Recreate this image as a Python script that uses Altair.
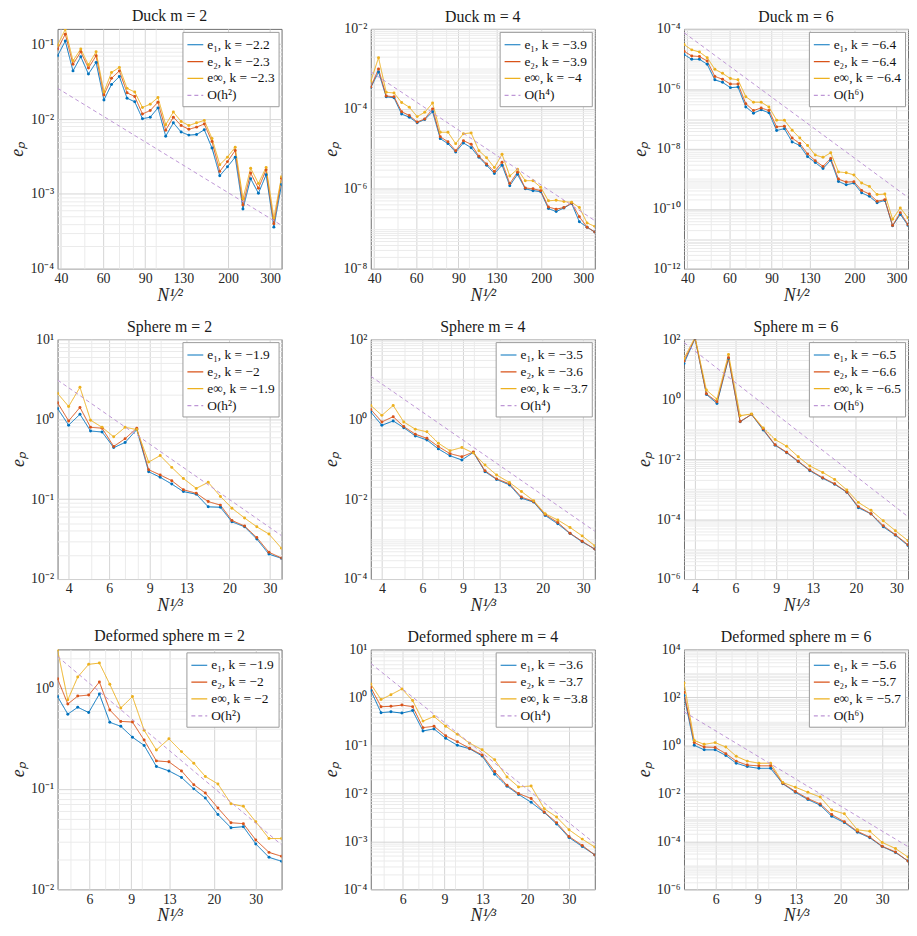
import altair as alt
import pandas as pd

SERIF = "Liberation Serif"
COLORS = ["#0072BD", "#D95319", "#EDB120", "#BE96D6"]

# ---------------- x values ----------------
duck_x = [38.7, 41.7, 44.9, 48.4, 52.1, 56.1, 60.5, 65.1, 70.2, 75.6, 81.4, 87.7, 94.5, 101.8, 109.7,
          118.1, 127.3, 137.1, 147.7, 159.1, 171.4, 184.7, 198.9, 214.3, 230.9, 248.7, 268.0, 288.7, 311.0, 335.0]
sphere_x = [3.58, 4.0, 4.48, 4.98, 5.59, 6.28, 7.04, 7.91, 8.91, 10.0, 11.23, 12.61, 14.35, 16.17, 18.27,
            20.5, 23.27, 26.3, 29.7, 33.7]
deformed_x = [4.41, 4.87, 5.36, 5.96, 6.61, 7.31, 8.13, 9.10, 10.19, 11.47, 12.95, 14.62, 16.47, 18.41, 20.8,
              23.6, 26.6, 30.0, 34.1, 38.5]

# ---------------- Duck ----------------
duck2_e1 = [0.070, 0.11, 0.044, 0.068, 0.040, 0.057, 0.018, 0.029, 0.037, 0.019, 0.017, 0.0101, 0.0106, 0.0141, 0.0059,
            0.0089, 0.0067, 0.0061, 0.0062, 0.0072, 0.0041, 0.00175, 0.0023, 0.0031, 0.00063, 0.0016, 0.00102, 0.0018,
            0.00036, 0.00134]
duck2_e2 = [0.086, 0.136, 0.054, 0.079, 0.048, 0.070, 0.021, 0.035, 0.044, 0.0224, 0.020, 0.0117, 0.013, 0.0168, 0.0071,
            0.0106, 0.0082, 0.0073, 0.0078, 0.0086, 0.0050, 0.0020, 0.0027, 0.0038, 0.00071, 0.0019, 0.00119, 0.0021,
            0.00040, 0.00162]
duck2_einf = [0.097, 0.158, 0.060, 0.086, 0.053, 0.079, 0.023, 0.042, 0.049, 0.0257, 0.023, 0.0143, 0.0158, 0.0194, 0.0084,
              0.0124, 0.0093, 0.0082, 0.0089, 0.0096, 0.0055, 0.00246, 0.0031, 0.0042, 0.00086, 0.0022, 0.00138, 0.00226,
              0.00048, 0.0017]
duck2_ref = [0.0258, 0.00038]

duck4_e1 = [3.4e-4, 8.4e-4, 2.0e-4, 1.9e-4, 7.4e-5, 6.2e-5, 4.5e-5, 5.4e-5, 8.5e-5, 1.8e-5, 1.35e-5, 8.3e-6, 1.4e-5,
            1.07e-5, 6.2e-6, 3.9e-6, 2.4e-6, 3.9e-6, 1.2e-6, 2.3e-6, 1.0e-6, 9e-7, 8.5e-7, 3.2e-7, 2.7e-7, 3.3e-7,
            4.3e-7, 1.5e-7, 1.1e-7, 8.3e-8]
duck4_e2 = [3.5e-4, 1.0e-3, 2.1e-4, 2.0e-4, 8.5e-5, 6.8e-5, 4.7e-5, 5.6e-5, 1.0e-4, 2.0e-5, 1.5e-5, 9.0e-6, 1.6e-5,
            1.3e-5, 6.5e-6, 4.2e-6, 2.7e-6, 4.6e-6, 1.35e-6, 2.6e-6, 1.05e-6, 1.0e-6, 9e-7, 3.5e-7, 3.1e-7, 3.4e-7,
            4.4e-7, 2.0e-7, 1.1e-7, 8.3e-8]
duck4_einf = [4.9e-4, 1.9e-3, 2.6e-4, 2.5e-4, 1.45e-4, 1.1e-4, 6.4e-5, 8.2e-5, 1.4e-4, 2.6e-5, 2.6e-5, 1.35e-5, 2.4e-5,
              2.5e-5, 9e-6, 6e-6, 3.4e-6, 7.3e-6, 2.1e-6, 3.1e-6, 1.6e-6, 1.6e-6, 1.1e-6, 5.0e-7, 5.2e-7, 4.8e-7,
              4.6e-7, 3.4e-7, 1.4e-7, 1.15e-7]
duck4_ref = [8.5e-4, 1.6e-7]

duck6_e1 = [1.4e-5, 9.7e-6, 9.7e-6, 6.6e-6, 2.0e-6, 1.65e-6, 1.1e-6, 1.15e-6, 2.5e-7, 1.55e-7, 2.0e-7, 1.6e-7, 4.1e-8,
            4.7e-8, 1.7e-8, 1.3e-8, 5.5e-9, 3.5e-9, 2.2e-9, 4.2e-9, 8.2e-10, 6.3e-10, 7.2e-10, 3.4e-10, 2.6e-10,
            1.6e-10, 1.9e-10, 2.7e-11, 6.5e-11, 2.8e-11]
duck6_e2 = [1.8e-5, 1.25e-5, 1.2e-5, 8.5e-6, 2.6e-6, 2.1e-6, 1.45e-6, 1.45e-6, 3.2e-7, 1.9e-7, 2.3e-7, 1.9e-7, 5.4e-8,
            5.7e-8, 2.3e-8, 1.5e-8, 6.8e-9, 4.0e-9, 2.6e-9, 4.8e-9, 9.8e-10, 7.8e-10, 8.0e-10, 4.1e-10, 3.1e-10,
            1.8e-10, 2.0e-10, 2.8e-11, 7.4e-11, 3.0e-11]
duck6_einf = [3.0e-5, 2.0e-5, 1.7e-5, 1.1e-5, 4.5e-6, 3.3e-6, 2.2e-6, 2.0e-6, 5.5e-7, 3.6e-7, 3.6e-7, 2.5e-7, 9e-8,
              9e-8, 4.2e-8, 2.3e-8, 1.3e-8, 6.2e-9, 5.2e-9, 7.4e-9, 1.7e-9, 1.6e-9, 1.35e-9, 7.2e-10, 5.6e-10,
              3.0e-10, 3.1e-10, 4.5e-11, 1.07e-10, 5.0e-11]
duck6_ref = [7.5e-5, 2.4e-10]

# ---------------- Sphere ----------------
sph2_e1 = [1.36, 0.84, 1.15, 0.71, 0.69, 0.44, 0.51, 0.74, 0.22, 0.187, 0.154, 0.124, 0.115, 0.080, 0.079, 0.052,
           0.045, 0.0316, 0.0205, 0.0181]
sph2_e2 = [1.6, 0.95, 1.4, 0.79, 0.77, 0.455, 0.57, 0.77, 0.233, 0.20, 0.17, 0.131, 0.118, 0.093, 0.084, 0.054,
           0.046, 0.033, 0.0216, 0.0183]
sph2_einf = [2.1, 1.44, 2.5, 0.97, 0.79, 0.60, 0.79, 0.74, 0.29, 0.35, 0.249, 0.181, 0.136, 0.162, 0.108, 0.077,
             0.058, 0.045, 0.0365, 0.0242]
sph2_ref = [3.08, 0.0348]

sph4_e1 = [1.5, 0.7, 0.9, 0.61, 0.38, 0.30, 0.18, 0.121, 0.095, 0.147, 0.0485, 0.031, 0.0226, 0.0105, 0.0084, 0.0039,
           0.0024, 0.00137, 0.00085, 0.00056]
sph4_e2 = [1.75, 0.85, 1.15, 0.65, 0.42, 0.33, 0.206, 0.137, 0.115, 0.15, 0.051, 0.032, 0.024, 0.0112, 0.0087, 0.0041,
           0.0026, 0.0014, 0.00088, 0.00056]
sph4_einf = [2.2, 1.24, 2.2, 0.85, 0.56, 0.48, 0.25, 0.162, 0.195, 0.141, 0.071, 0.040, 0.026, 0.0155, 0.0091, 0.0043,
             0.0030, 0.00195, 0.0012, 0.00068]
sph4_ref = [11.8, 0.00157]

sph6_e1 = [15.5, 105, 1.43, 0.72, 22.7, 0.175, 0.31, 0.093, 0.029, 0.0163, 0.0082, 0.0041, 0.0023, 0.00144, 0.00078,
           0.00024, 0.000148, 5.5e-5, 2.9e-5, 1.3e-5]
sph6_e2 = [18.5, 108, 1.5, 0.82, 24, 0.18, 0.31, 0.10, 0.030, 0.017, 0.0085, 0.0043, 0.0024, 0.0015, 0.0008,
           0.00026, 0.00015, 6e-5, 3e-5, 1.4e-5]
sph6_einf = [22.7, 115, 2.0, 1.0, 31, 0.28, 0.32, 0.11, 0.045, 0.027, 0.012, 0.0059, 0.0036, 0.0021, 0.00093,
             0.00036, 0.000195, 8.8e-5, 4.1e-5, 1.9e-5]
sph6_ref = [77, 1.2e-4]

# ---------------- Deformed sphere ----------------
def2_e1 = [0.83, 0.555, 0.65, 0.576, 0.88, 0.46, 0.42, 0.327, 0.271, 0.167, 0.151, 0.130, 0.100, 0.081, 0.0555, 0.041,
           0.042, 0.0283, 0.0208, 0.019]
def2_e2 = [1.25, 0.70, 0.84, 0.86, 1.16, 0.61, 0.47, 0.463, 0.306, 0.19, 0.186, 0.151, 0.11, 0.091, 0.0645, 0.046,
           0.045, 0.031, 0.0233, 0.0213]
def2_einf = [2.42, 0.77, 1.30, 1.74, 1.79, 1.10, 0.64, 0.83, 0.384, 0.244, 0.315, 0.235, 0.18, 0.133, 0.112, 0.071,
             0.067, 0.047, 0.032, 0.032]
def2_ref = [2.08, 0.0277]

def4_e1 = [1.4, 0.48, 0.50, 0.47, 0.53, 0.20, 0.22, 0.14, 0.10, 0.085, 0.06, 0.025, 0.014, 0.0095, 0.0065, 0.004,
           0.0023, 0.0012, 0.00078, 0.00052]
def4_e2 = [1.6, 0.64, 0.65, 0.69, 0.64, 0.234, 0.25, 0.158, 0.119, 0.087, 0.063, 0.0285, 0.0147, 0.0099, 0.0078,
           0.0041, 0.00245, 0.00126, 0.00082, 0.00052]
def4_einf = [1.9, 0.9, 1.14, 1.5, 0.86, 0.32, 0.40, 0.25, 0.17, 0.111, 0.081, 0.05, 0.022, 0.0136, 0.0142, 0.0048,
             0.0032, 0.00174, 0.00111, 0.00076]
def4_ref = [5.1, 9e-4]

def6_e1 = [120, 1.0, 0.65, 0.65, 0.38, 0.18, 0.13, 0.11, 0.11, 0.025, 0.011, 0.0055, 0.0032, 0.0011, 0.0006, 0.00024,
           0.00014, 6e-5, 3.4e-5, 1.5e-5]
def6_e2 = [160, 1.3, 0.85, 0.82, 0.45, 0.22, 0.15, 0.14, 0.14, 0.026, 0.012, 0.006, 0.0036, 0.0013, 0.00065, 0.00026,
           0.00015, 6.2e-5, 3.6e-5, 1.5e-5]
def6_einf = [400, 1.6, 1.1, 1.3, 0.85, 0.35, 0.22, 0.18, 0.18, 0.028, 0.018, 0.011, 0.007, 0.002, 0.0014, 0.0003,
             0.00026, 9e-5, 5e-5, 2.2e-5]
def6_ref = [25, 6e-5]

# ---------------- tick labels ----------------
duck_xticks = [40, 60, 90, 130, 200, 300]
duck_xminor = [50, 70, 80, 100]
sphere_xticks = [4, 6, 9, 13, 20, 30]
sphere_xminor = [5, 7, 8, 10]
deformed_xticks = [6, 9, 13, 20, 30]
deformed_xminor = [5, 7, 8, 10]

SUP = str.maketrans("-0123456789", "⁻⁰¹²³⁴⁵⁶⁷⁸⁹")


def y_axis(lo_exp, hi_exp, step, dom):
    labeled = [float(f"1e{n}") for n in range(lo_exp, hi_exp + 1, step)]
    vals = []
    for n in range(lo_exp, hi_exp + 1):
        for k in range(1, 10):
            v = float(f"{k}e{n}")
            if dom[0] <= v <= dom[1]:
                vals.append(v)
    expr = "''"
    for n in reversed(range(lo_exp, hi_exp + 1, step)):
        v = float(f"1e{n}")
        expr = f"datum.value == {v!r} ? '10{str(n).translate(SUP)}' : {expr}"
    test = f"indexof({labeled!r}, datum.value) >= 0"
    return alt.Axis(values=vals, labelExpr=expr, title="eₚ", titleFontStyle="italic",
                    labelFont=SERIF, titleFont=SERIF, labelFontSize=14, titleFontSize=18,
                    grid=True, ticks=False, domain=False, labelOverlap=False, labelBound=False,
                    gridColor={"condition": {"test": test, "value": "#d4d4d4"}, "value": "#ebebeb"},
                    labelPadding=4, titlePadding=3)


def x_axis(major, minor, title):
    vals = sorted(major + minor)
    test = f"indexof({major!r}, datum.value) >= 0"
    return alt.Axis(values=vals, labelExpr=f"{test} ? format(datum.value, 'd') : ''", title=title,
                    labelFont=SERIF, titleFont=SERIF, labelFontSize=14, titleFontSize=18,
                    titleFontStyle="italic", grid=True, ticks=False, domain=False, labelOverlap=False,
                    labelFlush=False, labelBound=False, labelPadding=3, titlePadding=1,
                    gridColor={"condition": {"test": test, "value": "#d4d4d4"}, "value": "#ebebeb"})


def panel(title, xs, series, ks, ref, m, ydom, yexp, xmajor, xminor, xtitle):
    labels = [f"e₁, k = {ks[0]}", f"e₂, k = {ks[1]}", f"e∞, k = {ks[2]}", f"O(h{str(m).translate(SUP)})"]
    rows = []
    for lab, vals in zip(labels[:3], series):
        for x, v in zip(xs, vals):
            rows.append({"x": x, "v": v, "s": lab})
    ref_rows = [{"x": xs[0], "v": ref[0], "s": labels[3]}, {"x": xs[-1], "v": ref[1], "s": labels[3]}]
    xenc = alt.X("x:Q", scale=alt.Scale(type="log", domain=[xs[0], xs[-1]], nice=False),
                 axis=x_axis(xmajor, xminor, xtitle))
    yenc = alt.Y("v:Q", scale=alt.Scale(type="log", domain=ydom, nice=False),
                 axis=y_axis(yexp[0], yexp[1], yexp[2], ydom))
    cenc = alt.Color("s:N", scale=alt.Scale(domain=labels, range=COLORS), title=None)
    denc = alt.StrokeDash("s:N", scale=alt.Scale(domain=labels, range=[[1, 0], [1, 0], [1, 0], [4, 3]]), title=None)
    main = alt.Chart(pd.DataFrame(rows)).mark_line(
        strokeWidth=1, clip=True, point=alt.OverlayMarkDef(filled=True, size=9, clip=True)
    ).encode(x=xenc, y=yenc, color=cenc, strokeDash=denc, order="x:Q")
    refl = alt.Chart(pd.DataFrame(ref_rows)).mark_line(strokeWidth=1, clip=True).encode(
        x=xenc, y=yenc, color=cenc, strokeDash=denc)
    # a y label sitting on the top edge pushes the title up; move it back down
    top_label = float(f"1e{yexp[1]}") == ydom[1]
    return alt.layer(main, refl).properties(
        width=226, height=242,
        title=alt.TitleParams(text=title, font=SERIF, fontSize=16, fontWeight=400, color="#1a1a1a", offset=5,
                              dy=8 if top_label else 0))


NH = "N¹⁄²"
NT = "N¹⁄³"
panels = [
    panel("Duck m = 2", duck_x, [duck2_e1, duck2_e2, duck2_einf], ["−2.2", "−2.3", "−2.3"], duck2_ref, 2,
          [1e-4, 0.16], (-4, -1, 1), duck_xticks, duck_xminor, NH),
    panel("Duck m = 4", duck_x, [duck4_e1, duck4_e2, duck4_einf], ["−3.9", "−3.9", "−4"], duck4_ref, 4,
          [1e-8, 1e-2], (-8, -2, 2), duck_xticks, duck_xminor, NH),
    panel("Duck m = 6", duck_x, [duck6_e1, duck6_e2, duck6_einf], ["−6.4", "−6.4", "−6.4"], duck6_ref, 6,
          [1e-12, 1e-4], (-12, -4, 2), duck_xticks, duck_xminor, NH),
    panel("Sphere m = 2", sphere_x, [sph2_e1, sph2_e2, sph2_einf], ["−1.9", "−2", "−1.9"], sph2_ref, 2,
          [1e-2, 1e1], (-2, 1, 1), sphere_xticks, sphere_xminor, NT),
    panel("Sphere m = 4", sphere_x, [sph4_e1, sph4_e2, sph4_einf], ["−3.5", "−3.6", "−3.7"], sph4_ref, 4,
          [1e-4, 1e2], (-4, 2, 2), sphere_xticks, sphere_xminor, NT),
    panel("Sphere m = 6", sphere_x, [sph6_e1, sph6_e2, sph6_einf], ["−6.5", "−6.6", "−6.5"], sph6_ref, 6,
          [1e-6, 1e2], (-6, 2, 2), sphere_xticks, sphere_xminor, NT),
    panel("Deformed sphere m = 2", deformed_x, [def2_e1, def2_e2, def2_einf], ["−1.9", "−2", "−2"], def2_ref, 2,
          [1e-2, 2.45], (-2, 0, 1), deformed_xticks, deformed_xminor, NT),
    panel("Deformed sphere m = 4", deformed_x, [def4_e1, def4_e2, def4_einf], ["−3.6", "−3.7", "−3.8"], def4_ref, 4,
          [1e-4, 1e1], (-4, 1, 1), deformed_xticks, deformed_xminor, NT),
    panel("Deformed sphere m = 6", deformed_x, [def6_e1, def6_e2, def6_einf], ["−5.6", "−5.7", "−5.7"], def6_ref, 6,
          [1e-6, 1e4], (-6, 4, 2), deformed_xticks, deformed_xminor, NT),
]

chart = alt.concat(*panels, columns=3, bounds="flush", spacing={"row": 71, "column": 90}).resolve_scale(
    color="independent", strokeDash="independent"
).configure(
    padding={"left": 0, "top": -5, "right": 0, "bottom": 0},
    style={"group-title": {"fontWeight": "normal", "font": SERIF}}
).configure_title(
    font=SERIF, fontSize=16, fontWeight="normal"
).configure_axis(
    labelFont=SERIF, titleFont=SERIF, labelFontSize=14, titleFontSize=18, labelColor="#262626",
    titleColor="#262626", titleFontWeight="normal"
).configure_legend(
    orient="top-right", offset=3, fillColor="white", strokeColor="#9a9a9a", padding=4, rowPadding=1,
    labelFont=SERIF, labelFontSize=13.5, labelColor="#111111", symbolType="stroke", symbolSize=256,
    symbolStrokeWidth=1.2, labelOffset=3, cornerRadius=0
).configure_view(
    stroke="#6e6e6e", strokeWidth=1
)

chart.save("out.html", embed_options={"renderer": "svg", "actions": False})
